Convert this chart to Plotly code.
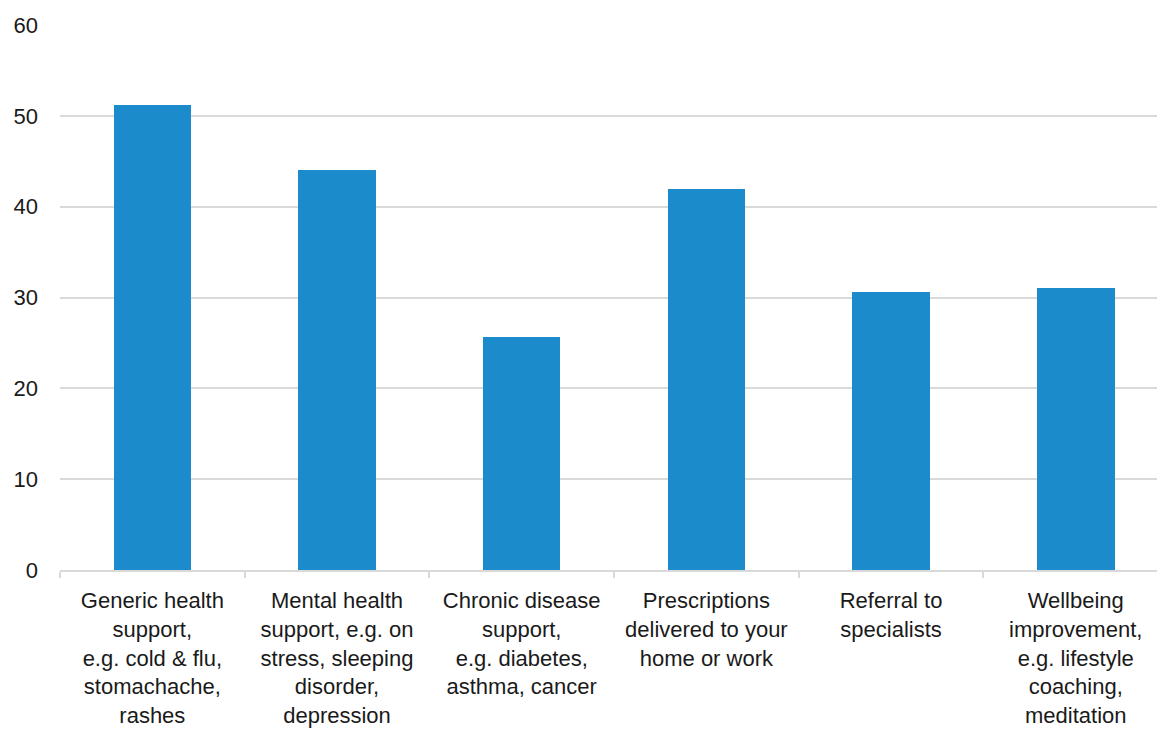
import plotly.graph_objects as go

categories = [
    "Generic health<br>support,<br>e.g. cold &amp; flu,<br>stomachache,<br>rashes",
    "Mental health<br>support, e.g. on<br>stress, sleeping<br>disorder,<br>depression",
    "Chronic disease<br>support,<br>e.g. diabetes,<br>asthma, cancer",
    "Prescriptions<br>delivered to your<br>home or work",
    "Referral to<br>specialists",
    "Wellbeing<br>improvement,<br>e.g. lifestyle<br>coaching,<br>meditation",
]
values = [51.2, 44.0, 25.6, 41.9, 30.6, 31.0]
y_ticks = [0, 10, 20, 30, 40, 50, 60]

fig = go.Figure(
    go.Bar(
        x=categories,
        y=values,
        marker=dict(color="#1B8BCB", line=dict(width=0)),
        width=0.42,
    )
)

font = dict(family="Liberation Sans, Arial, sans-serif", size=22, color="#1a1a1a")

fig.update_layout(
    width=1157,
    height=733,
    margin=dict(l=60, r=0, t=25, b=163),
    paper_bgcolor="white",
    plot_bgcolor="white",
    font=font,
    showlegend=False,
    bargap=0,
)

fig.update_xaxes(
    range=[-0.5, 5.44],
    showgrid=False,
    showline=True,
    linecolor="#D9D9D9",
    linewidth=2,
    ticks="outside",
    tickson="boundaries",
    ticklen=6,
    tickcolor="#D9D9D9",
    tickwidth=2,
    tickangle=0,
    ticklabelstandoff=10,
    tickfont=font,
)

fig.update_yaxes(
    range=[0, 60],
    tickvals=y_ticks,
    showgrid=True,
    gridcolor="#D9D9D9",
    gridwidth=2,
    zeroline=False,
    showline=False,
    ticks="",
    ticklabelstandoff=21,
    tickfont=font,
)

fig.write_html("out.html")
